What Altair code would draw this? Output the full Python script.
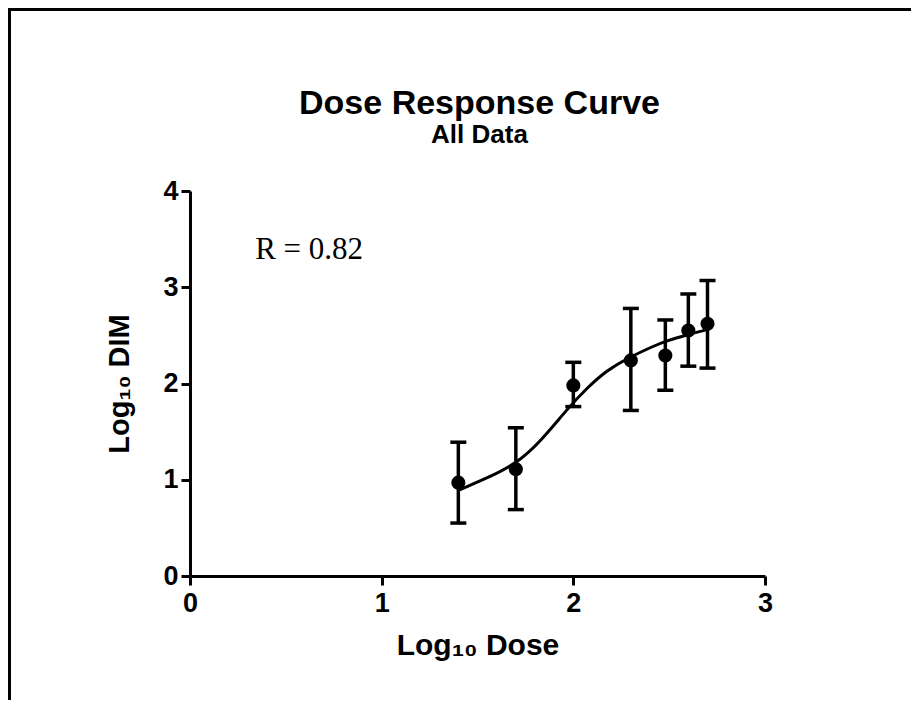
import altair as alt
import pandas as pd

# ---- data ----
dose = [1.40, 1.70, 2.00, 2.30, 2.48, 2.60, 2.70]
dim_mean = [0.97, 1.11, 1.98, 2.24, 2.29, 2.55, 2.62]
dim_low = [0.55, 0.69, 1.76, 1.72, 1.93, 2.18, 2.16]
dim_high = [1.39, 1.54, 2.22, 2.78, 2.66, 2.93, 3.07]

fit_x = [1.40, 1.53, 1.70, 1.83, 1.97, 2.07, 2.17, 2.28, 2.42, 2.48, 2.60, 2.70]
fit_y = [0.89, 1.00, 1.16, 1.40, 1.74, 1.95, 2.13, 2.26, 2.39, 2.44, 2.51, 2.56]

x_ticks = [0, 1, 2, 3]
y_ticks = [0, 1, 2, 3, 4]

title_text = ["Dose Response Curve"]
subtitle_text = ["All Data"]
x_title = "Log\u2081\u2080 Dose"
y_title = "Log\u2081\u2080 DIM"
r_label = ["R = 0.82"]
r_pos_x = [0.34]
r_pos_y = [3.39]

# ---- layout ----
W, H = 575, 385
PAD_L, PAD_T, PAD_R, PAD_B = 182, 183, 146, 124

pts = pd.DataFrame({"dose": dose, "mean": dim_mean, "low": dim_low, "high": dim_high})
fit = pd.DataFrame({"x": fit_x, "y": fit_y})
ann = pd.DataFrame({"x": r_pos_x, "y": r_pos_y, "t": r_label})

FONT = "Liberation Sans"

xscale = alt.Scale(domain=[0, 3], nice=False, zero=False)
yscale = alt.Scale(domain=[0, 4], nice=False, zero=False)

xaxis = alt.Axis(values=x_ticks, format="d", title=x_title, grid=False, labelFlush=False,
                 labelFont=FONT, labelFontSize=27, labelFontWeight="bold", labelColor="black",
                 labelPadding=5, domainColor="black", domainWidth=3, tickColor="black",
                 tickWidth=3, tickSize=9, titleFont=FONT, titleFontSize=30,
                 titleFontWeight="bold", titleColor="black", titlePadding=14)
yaxis = alt.Axis(values=y_ticks, format="d", title=y_title, grid=False, labelFlush=False,
                 labelFont=FONT, labelFontSize=27, labelFontWeight="bold", labelColor="black",
                 labelPadding=3, domainColor="black", domainWidth=3, tickColor="black",
                 tickWidth=3, tickSize=9, titleFont=FONT, titleFontSize=29,
                 titleFontWeight="bold", titleColor="black", titleX=-56)

base = alt.Chart(pts)

err = base.mark_rule(color="black", strokeWidth=3.5).encode(
    x=alt.X("dose:Q", scale=xscale, axis=xaxis),
    y=alt.Y("low:Q", scale=yscale, axis=yaxis),
    y2="high:Q",
)
cap_lo = base.mark_tick(color="black", orient="horizontal", size=16, thickness=3.5, opacity=1).encode(
    x=alt.X("dose:Q", scale=xscale), y=alt.Y("low:Q", scale=yscale))
cap_hi = base.mark_tick(color="black", orient="horizontal", size=16, thickness=3.5, opacity=1).encode(
    x=alt.X("dose:Q", scale=xscale), y=alt.Y("high:Q", scale=yscale))
dots = base.mark_circle(color="black", size=200, opacity=1).encode(
    x=alt.X("dose:Q", scale=xscale), y=alt.Y("mean:Q", scale=yscale))

curve = alt.Chart(fit).mark_line(color="black", strokeWidth=3, interpolate="basis").encode(
    x=alt.X("x:Q", scale=xscale), y=alt.Y("y:Q", scale=yscale))

rtext = alt.Chart(ann).mark_text(font="Liberation Serif", fontSize=31, align="left",
                                 baseline="middle", color="black").encode(
    x=alt.X("x:Q", scale=xscale), y=alt.Y("y:Q", scale=yscale), text="t:N")

one = pd.DataFrame({"k": [0]})
top_border = alt.Chart(one).mark_rule(color="black", strokeWidth=3).encode(
    x=alt.value(-PAD_L), x2=alt.value(W + PAD_R), y=alt.value(-PAD_T + 1.5))
left_border = alt.Chart(one).mark_rule(color="black", strokeWidth=3).encode(
    x=alt.value(-PAD_L + 1.5), y=alt.value(-PAD_T), y2=alt.value(H + PAD_B))

title_mark = alt.Chart(pd.DataFrame({"t": title_text})).mark_text(
    font=FONT, fontSize=34, fontWeight="bold", color="black", align="center", baseline="alphabetic"
).encode(x=alt.value(W / 2 + 2), y=alt.value(-77), text="t:N")
subtitle_mark = alt.Chart(pd.DataFrame({"t": subtitle_text})).mark_text(
    font=FONT, fontSize=26, fontWeight="bold", color="black", align="center", baseline="alphabetic"
).encode(x=alt.value(W / 2 + 2), y=alt.value(-48), text="t:N")

chart = alt.layer(err, cap_lo, cap_hi, curve, dots, rtext, top_border, left_border,
                  title_mark, subtitle_mark).properties(
    width=W, height=H,
    background="white",
    autosize=alt.AutoSizeParams(type="none"),
    padding={"left": PAD_L, "top": PAD_T, "right": PAD_R, "bottom": PAD_B},
).configure_view(stroke="transparent", strokeWidth=0)

chart.save("out.html", embed_options={"renderer": "svg", "actions": False})
